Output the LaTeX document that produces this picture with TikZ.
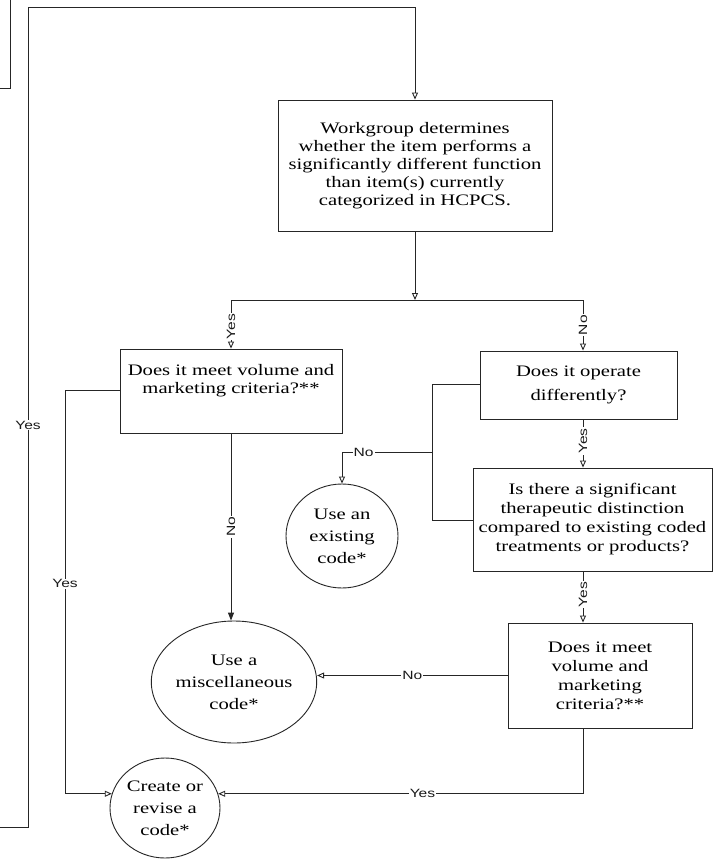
\documentclass[tikz,border=0pt]{standalone}
\usepackage{fontspec}
\setmainfont{Liberation Serif}
\newfontfamily\boxfont{Liberation Serif}[FakeStretch=1.29]
\newfontfamily\labfont{Liberation Sans}[FakeStretch=1.3]
\usetikzlibrary{arrows.meta,shapes.geometric}
\begin{document}
\begin{tikzpicture}[x=1pt,y=-1pt,
  line/.style={draw=black!85, line width=0.9pt},
  arr/.style={line, -{Triangle[open,length=7pt,width=6pt]}},
  farr/.style={line, -{Triangle[length=8pt,width=6pt]}},
  box/.style={draw=black!85, line width=0.9pt, rectangle, align=center,
    font=\boxfont\fontsize{16}{18}\selectfont, inner sep=1pt, text=black},
  circ/.style={draw=black!85, line width=0.9pt, ellipse, align=center,
    font=\boxfont\fontsize{16}{22}\selectfont, inner sep=0pt, text=black},
  lab/.style={fill=white, inner sep=1pt, font=\labfont\fontsize{12}{13}\selectfont, text=black!90}
]
\fill[white] (0,0) rectangle (715,860);
\useasboundingbox (0,0) rectangle (715,860);

% nodes
\node[box, minimum width=274pt, minimum height=131pt] (b1) at (415,165.5)
  {Workgroup determines\\whether the item performs a\\significantly different function\\than item(s) currently\\categorized in HCPCS.};
\node[box, minimum width=222pt, minimum height=84pt, text depth=24pt] (b2) at (231,391)
  {Does it meet volume and\\marketing criteria?**};
\node[box, minimum width=197pt, minimum height=68pt, font=\boxfont\fontsize{16}{24}\selectfont] (b3) at (578.5,385)
  {Does it operate\\differently?};
\node[box, minimum width=239pt, minimum height=103pt, font=\boxfont\fontsize{16}{19}\selectfont] (b4) at (592.5,519.5)
  {Is there a significant\\therapeutic distinction\\compared to existing coded\\treatments or products?};
\node[box, minimum width=184pt, minimum height=105pt, font=\boxfont\fontsize{16}{19}\selectfont] (b5) at (600,675.5)
  {Does it meet\\volume and\\marketing\\criteria?**};
\node[circ, minimum width=112pt, minimum height=104pt] (ex) at (342,536)
  {Use an\\existing\\code*};
\node[circ, minimum width=138pt, minimum height=122pt] (misc) at (234,682)
  {Use a\\miscellaneous\\code*};
\node[circ, minimum width=110pt, minimum height=100pt] (create) at (165,808)
  {Create or\\revise a\\code*};

% coordinates
\coordinate (pa) at (0,88);
\coordinate (pb) at (10,88);
\coordinate (pc) at (10,0);
\coordinate (lb) at (0,827);
\coordinate (lc) at (28,827);
\coordinate (lt) at (28,7);
\coordinate (j) at (415,300);
\coordinate (jl) at (231,300);
\coordinate (jr) at (583,300);
\coordinate (yl) at (65,390);
\coordinate (bx) at (432,452);
\coordinate (b3y) at (432,384);
\coordinate (b4y) at (432,520);

% top-left partial box
\draw[line] (pa) -- (pb) -- (pc);

% outer loop
\draw[arr] (lb) -- (lc) -- node[lab, pos=0.49]{Yes} (lt) -| (b1.north);

% from b1 to junction
\draw[arr] (b1.south) -- (j);
\draw[line] (jl) -- (jr);
\draw[arr] (jl) -- node[lab, rotate=90, pos=0.55]{Yes} (b2.north);
\draw[arr] (jr) -- node[lab, rotate=90, pos=0.5]{No} (jr |- b3.north);

% left yes branch
\draw[arr] (yl -| b2.west) -- (yl) |- node[lab, pos=0.24]{Yes} (create.165);
% no to misc
\draw[farr] (b2.south) -- node[lab, rotate=90, pos=0.5]{No} (b2.south |- misc.north);

% bracket from b3/b4 to existing
\draw[line] (b3y -| b3.west) -- (b3y) -- (b4y) -- (b4y -| b4.west);
\draw[arr] (bx) -| node[lab, pos=0.38]{No} (ex.north);

% right column
\draw[arr] (jr |- b3.south) -- node[lab, rotate=90, pos=0.45]{Yes} (jr |- b4.north);
\draw[arr] (jr |- b4.south) -- node[lab, rotate=90, pos=0.45]{Yes} (jr |- b5.north);
\draw[arr] (b5.west) -- node[lab, pos=0.5]{No} (b5.west -| misc.east);
\draw[arr] (jr |- b5.south) |- node[lab, pos=0.72]{Yes} (create.15);
\end{tikzpicture}
\end{document}
